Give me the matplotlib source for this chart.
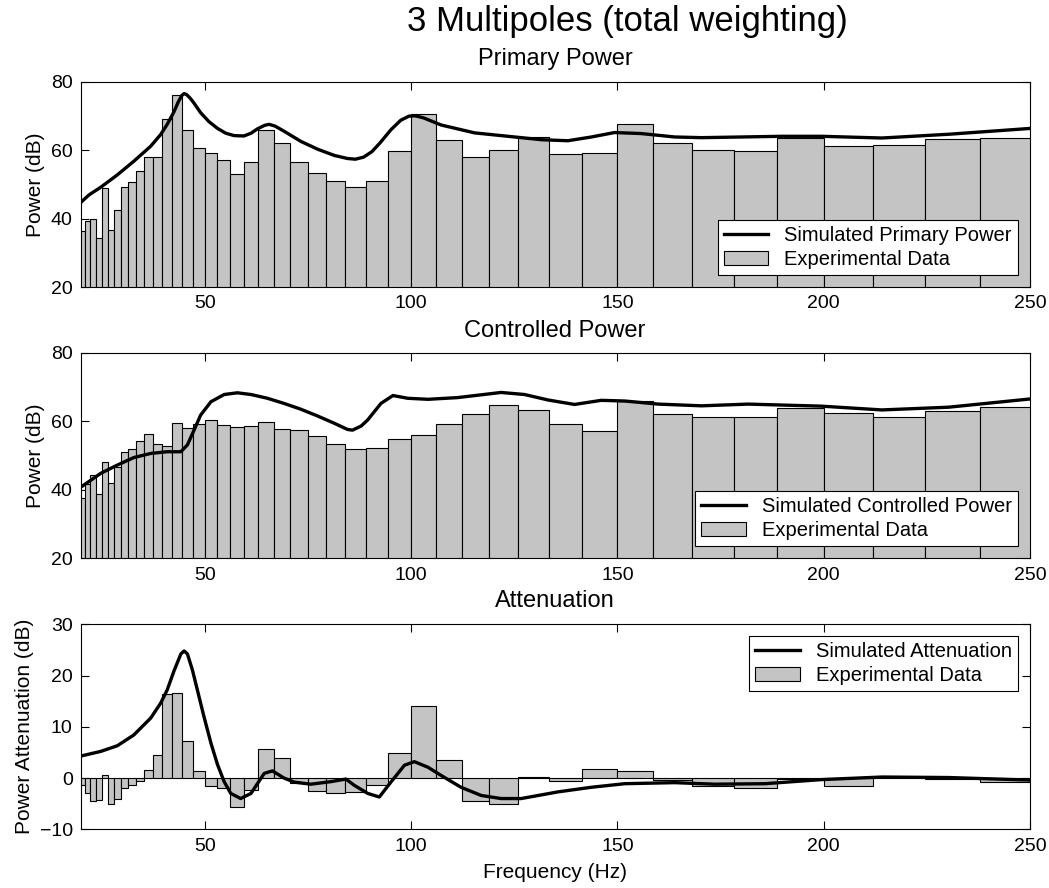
import numpy as np
import matplotlib
matplotlib.use('Agg')
import matplotlib.pyplot as plt

plt.rcParams['font.family'] = ['Liberation Sans', 'DejaVu Sans']

# 1/12-octave band edges (Hz)
band_edges = [19.84, 21.02, 22.27, 23.60, 25.00, 26.49, 28.06, 29.73, 31.50, 33.37,
              35.36, 37.46, 39.69, 42.04, 44.54, 47.19, 50.00, 52.97, 56.12, 59.46,
              63.00, 66.74, 70.71, 74.92, 79.37, 84.09, 89.09, 94.39, 100.00, 105.95,
              112.25, 118.92, 125.99, 133.48, 141.42, 149.83, 158.74, 168.18, 178.18,
              188.78, 200.00, 211.89, 224.49, 237.84, 251.98]

# experimental band levels (dB)
primary_exp = [36.3, 39.3, 40.0, 34.3, 48.9, 36.8, 42.5, 49.2, 50.7, 54.0,
               58.1, 58.0, 69.3, 76.3, 65.9, 60.8, 59.3, 57.3, 53.1, 56.7,
               65.8, 62.0, 56.7, 53.5, 51.0, 49.2, 51.1, 59.7, 70.7, 63.1,
               57.9, 60.2, 63.9, 58.9, 59.2, 67.8, 62.1, 60.0, 59.8, 63.6,
               61.3, 61.6, 63.3, 63.7]
controlled_exp = [37.7, 41.8, 44.4, 38.8, 48.2, 41.9, 46.5, 51.1, 52.0, 54.3,
                  56.2, 53.3, 52.8, 59.5, 58.1, 59.1, 60.5, 58.8, 58.4, 58.7,
                  59.7, 57.6, 57.3, 55.8, 53.5, 51.9, 52.3, 54.7, 56.1, 59.2,
                  62.1, 64.6, 63.2, 59.3, 57.1, 65.9, 62.2, 61.1, 61.3, 63.8,
                  62.5, 61.3, 62.9, 64.1]
atten_exp = [-1.4, -2.9, -4.4, -4.3, 0.6, -5.0, -4.1, -2.0, -1.3, -0.6,
             1.6, 4.5, 16.3, 16.6, 7.3, 1.3, -1.5, -2.0, -5.7, -2.4,
             5.7, 4.0, -1.0, -2.6, -2.9, -2.8, -1.3, 4.8, 14.1, 3.6,
             -4.5, -5.0, 0.3, -0.6, 1.8, 1.3, -0.4, -1.5, -2.0, -0.2,
             -1.6, 0.1, -0.1, -0.7]

# simulated curves
prim_f = [20.0, 22.0, 24.8, 28.8, 32.8, 36.9, 39.3, 40.9, 42.5, 43.6, 44.4, 45.0, 45.6,
          46.5, 47.4, 49.0, 51.0, 53.1, 55.1, 57.1, 59.5, 61.2, 62.8, 64.5, 65.6, 67.0,
          69.2, 73.3, 77.4, 81.4, 84.6, 86.5, 88.5, 90.5, 92.5, 95.1, 97.5, 99.5, 101.0,
          103.0, 107.3, 115.4, 123.5, 131.6, 138.0, 143.7, 149.3, 155.8, 163.9, 170.4,
          189.8, 199.5, 214.1, 230.3, 250.0]
prim_db = [44.8, 47.0, 49.2, 52.8, 56.8, 61.2, 64.6, 67.6, 71.2, 74.2, 76.0, 76.6, 76.3,
           75.2, 73.8, 71.0, 68.4, 66.4, 65.0, 64.3, 64.2, 65.0, 66.3, 67.3, 67.6, 67.1,
           65.6, 62.6, 60.3, 58.5, 57.6, 57.4, 58.0, 59.6, 62.2, 66.0, 68.8, 70.0, 70.1,
           69.5, 67.4, 65.1, 64.1, 63.1, 62.8, 63.9, 65.2, 64.9, 63.9, 63.7,
           64.1, 64.1, 63.6, 64.7, 66.4]

ctrl_f = [20.0, 24.8, 28.8, 32.8, 36.9, 40.9, 44.2, 45.8, 47.4, 49.0, 51.5, 54.7, 57.9,
          61.2, 65.2, 69.2, 73.3, 77.4, 81.4, 84.6, 85.8, 87.9, 89.5, 92.7, 95.6, 99.2,
          104.1, 111.3, 121.8, 127.5, 133.2, 139.6, 146.1, 151.8, 159.9, 170.4, 181.7,
          199.5, 214.1, 230.3, 250.0]
ctrl_db = [40.8, 44.8, 47.2, 49.4, 50.6, 51.1, 51.1, 53.1, 57.4, 61.8, 65.7, 67.8, 68.3,
           67.8, 66.7, 65.2, 63.5, 61.5, 59.4, 57.6, 57.4, 58.6, 60.4, 65.2, 67.5, 66.7,
           66.4, 66.9, 68.4, 67.8, 66.2, 64.9, 66.1, 65.9, 65.0, 64.5, 65.0,
           64.4, 63.3, 64.1, 66.5]

att_f = [20.0, 24.8, 28.8, 32.8, 36.9, 39.3, 40.9, 42.5, 44.2, 45.0, 45.8, 47.0, 48.2,
         49.8, 51.5, 53.1, 54.7, 56.3, 58.7, 61.2, 64.4, 66.4, 69.2, 71.7, 75.7, 80.6,
         84.2, 86.2, 89.5, 92.3, 95.1, 98.4, 100.8, 104.1, 107.3, 112.1, 117.0, 121.8,
         126.7, 135.6, 143.7, 151.8, 163.9, 173.6, 185.8, 199.5, 214.1, 230.3, 250.0]
att_db = [4.3, 5.2, 6.3, 8.4, 11.7, 14.6, 17.2, 20.8, 24.2, 24.8, 24.2, 21.1, 17.2,
          12.0, 6.8, 2.6, -0.7, -3.0, -4.0, -3.0, 0.9, 1.4, 0.0, -0.8, -1.2, -0.7,
          -0.2, -1.4, -3.0, -3.7, -0.8, 2.5, 3.2, 2.1, 0.5, -1.8, -3.4, -4.0,
          -4.0, -2.7, -1.8, -1.1, -0.9, -1.2, -1.1, -0.3, 0.2, 0.1, -0.4]

xticks = [50, 100, 150, 200, 250]

bar_color = '#c4c4c4'
lefts = np.array(band_edges[:-1])
widths = np.diff(band_edges)

fig = plt.figure(figsize=(10.49, 8.88), dpi=100)
ax1 = fig.add_axes([0.0772, 0.6768, 0.9047, 0.2309])
ax2 = fig.add_axes([0.0772, 0.3713, 0.9047, 0.2315])
ax3 = fig.add_axes([0.0772, 0.0661, 0.9047, 0.2309])

panels = [
    (ax1, primary_exp, prim_f, prim_db, 'Simulated Primary Power', 'Primary Power',
     (20, 80), [20, 40, 60, 80], 'Power (dB)', 'lower right', 0.9268),
    (ax2, controlled_exp, ctrl_f, ctrl_db, 'Simulated Controlled Power', 'Controlled Power',
     (20, 80), [20, 40, 60, 80], 'Power (dB)', 'lower right', 0.6205),
    (ax3, atten_exp, att_f, att_db, 'Simulated Attenuation', 'Attenuation',
     (-10, 30), [-10, 0, 10, 20, 30], 'Power Attenuation (dB)', 'upper right', 0.3164),
]

for ax, bars, cf, cv, lab, title, ylim, yticks, ylabel, loc, ty in panels:
    b = ax.bar(lefts, bars, width=widths, align='edge', color=bar_color,
               edgecolor='black', linewidth=0.8, label='Experimental Data', zorder=2)
    ln, = ax.plot(cf, cv, color='black', linewidth=2.4, label=lab, zorder=3)
    ax.set_xlim(20, 250)
    ax.set_ylim(*ylim)
    ax.set_xticks(xticks)
    ax.set_yticks(yticks)
    ax.tick_params(direction='in', top=True, right=True, length=6, width=0.8,
                   labelsize=14, pad=6)
    ax.set_ylabel(ylabel, fontsize=15)
    # panel titles sit on fixed baselines above each axes
    fig.text(0.529, ty, title, fontsize=17, ha='center', va='baseline')
    for s in ax.spines.values():
        s.set_linewidth(0.8)
    leg = ax.legend([ln, b], [lab, 'Experimental Data'], loc=loc, fontsize=14.5,
                    fancybox=False, framealpha=1, edgecolor='black',
                    borderaxespad=0.6, handlelength=2.2, labelspacing=0.25,
                    borderpad=0.3)
    leg.get_frame().set_linewidth(0.8)

ax3.set_xlabel('Frequency (Hz)', fontsize=15, labelpad=6)
fig.text(0.598, 0.965, '3 Multipoles (total weighting)', fontsize=25,
         ha='center', va='baseline')

fig.savefig('out.png', dpi=100)
